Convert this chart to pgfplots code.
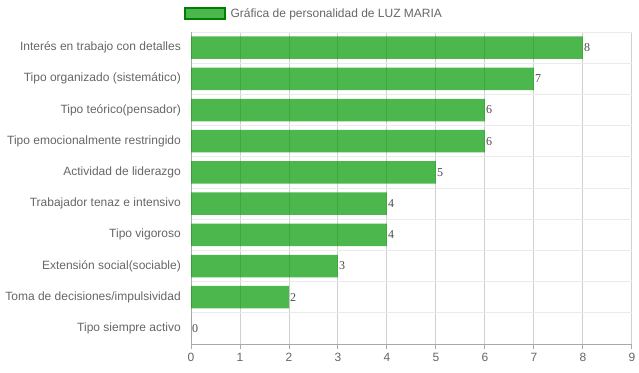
\documentclass[border=0pt]{standalone}
\usepackage{pgfplots}
\pgfplotsset{compat=1.18}
\usepackage{fontspec}
\setmainfont{Liberation Sans}
\newfontfamily\seriffont{Liberation Serif}
\definecolor{barfill}{RGB}{0,153,0}
\definecolor{barborder}{RGB}{0,128,0}
\definecolor{txt}{RGB}{102,102,102}
\definecolor{vgrid}{RGB}{208,208,208}
\definecolor{hgrid}{RGB}{235,235,235}
\definecolor{axline}{RGB}{170,170,170}
\begin{document}
\begin{tikzpicture}[x=1pt,y=1pt]
\path[use as bounding box] (0,0) rectangle (639,372);
\begin{axis}[
  at={(191pt,28pt)}, anchor=south west,
  scale only axis, width=441pt, height=312pt,
  xbar, bar width=22.5pt,
  xmin=0, xmax=9, xtick={0,...,9},
  ymin=-0.5, ymax=9.5, y dir=reverse,
  ytick={0,...,9},
  yticklabels={Interés en trabajo con detalles, Tipo organizado (sistemático), Tipo teórico(pensador), Tipo emocionalmente restringido, Actividad de liderazgo, Trabajador tenaz e intensivo, Tipo vigoroso, Extensión social(sociable), Toma de decisiones/impulsividad, Tipo siempre activo},
  minor ytick={-0.5,0.5,...,9.5},
  yminorgrids=true, xmajorgrids=true, ymajorgrids=false,
  major grid style={vgrid, line width=1pt},
  minor grid style={hgrid, line width=1pt},
  axis x line*=bottom, axis y line*=left,
  axis line style={axline, line width=1pt, -},
  tick align=outside, major tick length=5pt,
  xtick style={axline, line width=1pt},
  ytick style={draw=none}, minor tick length=0pt,
  /pgf/number format/assume math mode=true,
  font=\fontsize{12}{14}\selectfont,
  tick label style={text=txt, font=\fontsize{12}{14}\selectfont},
  xticklabel style={yshift=-1pt},
  yticklabel style={inner sep=0pt, xshift=-5pt},
  nodes near coords,
  nodes near coords style={anchor=west, inner sep=1pt, text=black, font=\seriffont\fontsize{12}{13}\selectfont, /pgf/number format/assume math mode=true},
  legend style={at={(0.2785,1.058)}, anchor=center, draw=none, fill=none, text=txt, font=\fontsize{12}{14}\selectfont},
  legend image code/.code={\draw[barborder, line width=2pt, fill=barfill, fill opacity=0.7] (0pt,-5.5pt) rectangle (40pt,5.5pt); \path (44pt,0pt);},
]
\addplot[fill=barfill, fill opacity=0.7, draw=none] coordinates {
  (8,0) (7,1) (6,2) (6,3) (5,4) (4,5) (4,6) (3,7) (2,8) (0,9)
};
\addlegendentry{Gráfica de personalidad de LUZ MARIA}
\end{axis}
\end{tikzpicture}
\end{document}
